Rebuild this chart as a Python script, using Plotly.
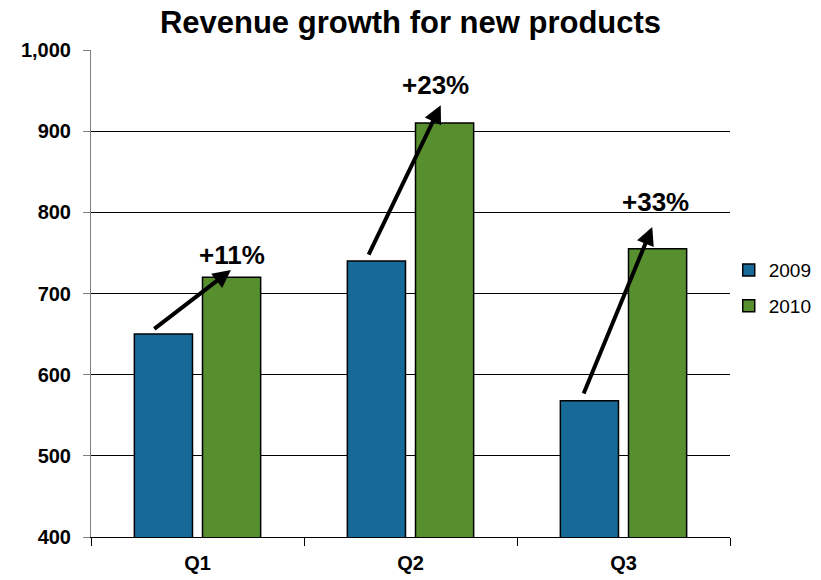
import plotly.graph_objects as go

quarters = ["Q1", "Q2", "Q3"]
revenue_2009 = [650, 740, 568]
revenue_2010 = [720, 910, 755]
growth_labels = ["+11%", "+23%", "+33%"]
y_ticks = [400, 500, 600, 700, 800, 900, 1000]

BLUE = "#176A98"
GREEN = "#578E2E"
FONT = "Liberation Sans, Arial, sans-serif"

fig = go.Figure()
fig.add_trace(go.Bar(x=quarters, y=revenue_2009, name="2009", legendgroup="a",
                     marker=dict(color=BLUE, line=dict(color="black", width=1.5))))
fig.add_trace(go.Bar(x=quarters, y=revenue_2010, name="2010", legendgroup="b",
                     marker=dict(color=GREEN, line=dict(color="black", width=1.5))))

# growth arrows: tail just above the 2009 bar, head just above the 2010 bar
tail_dx = [-0.21, -0.20, -0.19]
head_dx = [0.157, 0.142, 0.135]
tail_dy = [5, 6, 7]
head_dy = [9, 22, 27]
label_dx = [0.16, 0.115, 0.148]
label_dy = [28, 47, 58]
annotations = []
for i, q in enumerate(quarters):
    annotations.append(dict(
        x=i + head_dx[i], y=revenue_2010[i] + head_dy[i],
        ax=i + tail_dx[i], ay=revenue_2009[i] + tail_dy[i],
        xref="x", yref="y", axref="x", ayref="y",
        text="", showarrow=True, arrowhead=2, arrowsize=0.9,
        arrowwidth=4, arrowcolor="black", standoff=0, startstandoff=0))
    annotations.append(dict(
        x=i + label_dx[i], y=revenue_2010[i] + label_dy[i],
        xref="x", yref="y", text=f"<b>{growth_labels[i]}</b>",
        showarrow=False, font=dict(family=FONT, size=26, color="black")))

fig.update_layout(
    width=821, height=580,
    margin=dict(l=91, r=91, t=50, b=43, autoexpand=False),
    paper_bgcolor="white", plot_bgcolor="white",
    title=dict(text="<b>Revenue growth for new products</b>", x=0.5, xanchor="center",
               y=0.962, yanchor="middle",
               font=dict(family=FONT, size=31, color="black")),
    barmode="group", bargap=0.36, bargroupgap=0.147,
    showlegend=True,
    legend=dict(x=0.998, y=0.511, xanchor="left", yanchor="middle",
                font=dict(family=FONT, size=19, color="black"),
                itemwidth=30, tracegroupgap=8, bgcolor="rgba(0,0,0,0)"),
    annotations=annotations,
    xaxis=dict(type="category", tickson="boundaries", ticks="outside", ticklen=8,
               tickcolor="black", showline=True, linecolor="black", linewidth=1,
               showgrid=False, ticklabelstandoff=8,
               tickfont=dict(family=FONT, size=20, color="black"),
               tickvals=quarters, ticktext=[f"<b>{q}</b>" for q in quarters]),
    yaxis=dict(range=[400, 1000], tickvals=y_ticks,
               ticktext=[f"<b>{v:,}</b>" for v in y_ticks],
               ticks="outside", ticklen=7, tickcolor="#808080",
               showline=True, linecolor="#808080", linewidth=1,
               showgrid=True, gridcolor="black", gridwidth=1, zeroline=False,
               ticklabelstandoff=8,
               tickfont=dict(family=FONT, size=20, color="black")),
)

fig.write_html("out.html")
